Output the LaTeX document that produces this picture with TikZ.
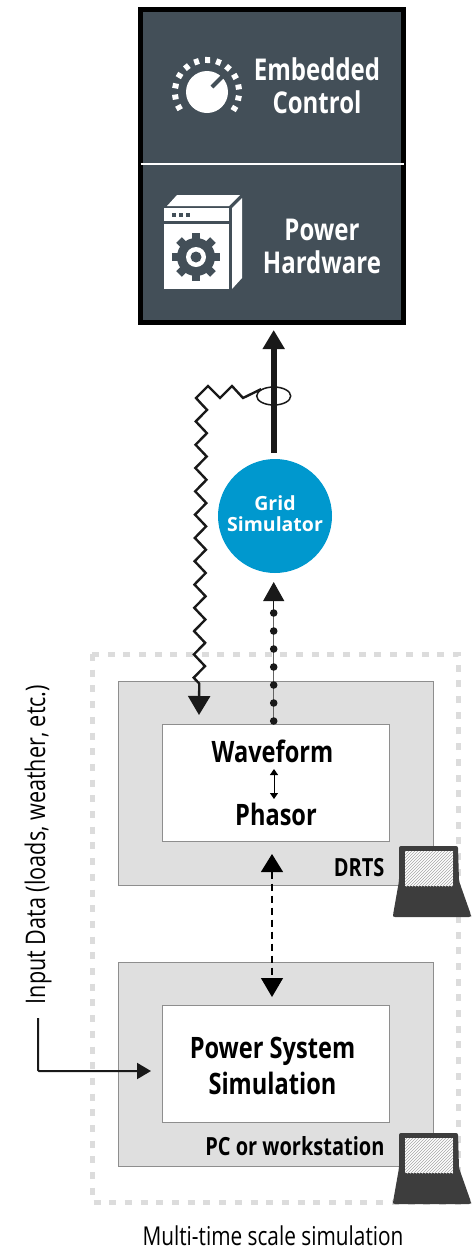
\documentclass[tikz,border=0pt]{standalone}
\usepackage{fontspec}
\setmainfont[FakeStretch=0.8]{Open Sans}
\newfontfamily\widefont{Open Sans}
\usetikzlibrary{arrows.meta,positioning,decorations.pathmorphing,patterns,shapes.geometric}
\definecolor{slatefill}{HTML}{434F58}
\definecolor{gridblue}{HTML}{0098CE}
\definecolor{panelgray}{HTML}{DFDFDF}
\definecolor{edgegray}{HTML}{8E8E8E}
\definecolor{framegray}{HTML}{DCDCDC}
\definecolor{laptopgray}{HTML}{3D3D3D}
\begin{document}
\begin{tikzpicture}[
    x=1pt, y=-1pt,
    hwtext/.style={font=\fontsize{30}{33}\selectfont\bfseries, text=white, align=center},
    panel/.style={draw=edgegray, line width=1pt, fill=panelgray, minimum width=315pt, minimum height=204pt},
    inner/.style={draw=edgegray, line width=1pt, fill=white, minimum width=227pt, minimum height=117pt},
    boxtext/.style={font=\fontsize{29.5}{36}\selectfont\bfseries, align=center},
    tagtext/.style={font=\fontsize{25}{28}\selectfont\bfseries},
    plaintext/.style={font=\fontsize{26}{28}\selectfont},
    bighead/.style={-{Triangle[width=21pt,length=19pt]}},
    laptop/.pic={
        \fill[laptopgray, rounded corners=2pt] (6,0) -- (65,0) -- (66,35) -- (78,69) -- (78,71) -- (0,71) -- (0,69) -- (6,35) -- cycle;
        \fill[white] (12,5) rectangle (60,40);
        \fill[pattern=north east lines, pattern color=gray!70] (12,5) rectangle (60,40);
    }
]
\useasboundingbox (0,0) rectangle (472,1251);
\draw[framegray, line width=5pt, dash pattern=on 7pt off 8.7pt] (92,654) rectangle (458,1202);
\node[panel] (drts) at (276,783) {};
\node[inner, below=43pt of drts.north] (phasorbox) {};
\node[panel, below=76pt of drts] (pcbox) {};
\node[inner, below=43pt of pcbox.north] (simbox) {};
\node[draw=black, line width=5pt, fill=slatefill, minimum width=263pt, minimum height=313pt] (hwbox) at (272,166) {};
\node[circle, fill=gridblue, minimum size=114pt, inner sep=0pt] (gridsim) at (275,516) {};
\node[align=center, text=white, font=\widefont\fontsize{19.5}{24}\selectfont\bfseries, above=-19pt of gridsim.center] (gridtext) {Grid\\[-3pt]Simulator};
\draw[white, line width=1.5pt, shorten <=2.5pt, shorten >=2.5pt] ([yshift=2pt]hwbox.west) -- ([yshift=2pt]hwbox.east);
\node[hwtext] (embedded) at (317,86) {Embedded\\Control};
\node[hwtext] (powerhw) at (322,246) {Power\\Hardware};
\fill[white] (207,92) circle (21);
\draw[slatefill, line width=4pt] (212,87) -- (224,75);
\foreach \ang in {-31,-11,...,209}
    \draw[white, line width=5pt] (207,92) ++(-\ang:29) -- ++(-\ang:6);
\fill[white] (167,206) -- (177,195) -- (240,195) -- (229,206) -- cycle;
\fill[white] (232,208) -- (242,198) -- (242,278) -- (232,289) -- cycle;
\fill[white] (164,208) rectangle (229,221);
\fill[white] (164,224) rectangle (229,289);
\foreach \px in {172,179,186}
    \fill[slatefill] (\px,213) rectangle (\px+4,217);
\fill[slatefill] (196,257) circle (19);
\foreach \ang in {0,45,...,315}
    \draw[slatefill, line width=8pt] (196,257) ++(\ang:16) -- ++(\ang:8);
\fill[white] (196,257) circle (10);
\fill[slatefill] (196,257) circle (5.5);
\coordinate (gridtop) at (273.7,459);
\draw[line width=6pt, color=black!90, bighead, shorten <=6pt, shorten >=5pt] (gridtop) -- (gridtop |- hwbox.south);
\node[draw=black!90, line width=1.5pt, ellipse, minimum width=34pt, minimum height=18pt, inner sep=0pt] (clamp) at (273.7,396) {};
\coordinate (zigend) at (199,715);
\draw[line width=2.4pt, color=black!90, -{Triangle[width=22pt,length=19pt]}, decoration={zigzag, segment length=23.3pt, amplitude=5.6pt, post length=22pt}] (clamp.north west) -- (243,398) -- (232,386) -- (220,398) -- (208,386) -- (196,398) -- (201.5,404) decorate {-- (zigend)};
\draw[edgegray!70!black, line width=1pt] (phasorbox.north -| gridtop) -- ++(0,-120);
\foreach \ypos in {721,703,685,667,649,631,613}
    \fill[black!90] (273.7,\ypos) circle (3.8);
\draw[black!90, line width=1pt, bighead] (273.7,610) -- (273.7,582);
\node[boxtext, below=13pt of phasorbox.north, xshift=-3.5pt] (waveform) {Waveform};
\node[boxtext, above=12pt of phasorbox.south] (phasor) {Phasor};
\coordinate (flipcentre) at (274,784);
\draw[black, line width=1pt, {Triangle[width=8pt,length=6pt]}-{Triangle[width=8pt,length=6pt]}] ([yshift=15pt]flipcentre) -- ([yshift=-15pt]flipcentre);
\draw[black, line width=1.2pt, dash pattern=on 7pt off 5pt, {Triangle[width=22pt,length=18pt]}-{Triangle[width=22pt,length=19pt]}, shorten <=12pt, shorten >=8pt] (272,842) -- (272,1005);
\node[boxtext, xshift=-3.5pt, yshift=-2pt] (pssim) at (simbox) {Power System\\Simulation};
\node[tagtext, anchor=south east] (drtslabel) at (388,880) {DRTS};
\node[tagtext, anchor=south east] (pclabel) at (388,1159) {PC or workstation};
\pic at (393,846) {laptop};
\pic at (393,1133) {laptop};
\node[plaintext, rotate=90, font=\fontsize{27}{30}\selectfont] (inputdata) at (38,844.5) {Input Data (loads, weather, etc.)};
\coordinate (inputstart) at (38,1018);
\draw[black!90, line width=2pt, rounded corners=1pt, -{Triangle[width=16pt,length=14pt]}] (inputstart) -- (38,1071) -- ([xshift=-11pt]simbox.west |- 0,1071);
\node[plaintext] (caption) at (273,1236) {Multi-time scale simulation};
\end{tikzpicture}
\end{document}
